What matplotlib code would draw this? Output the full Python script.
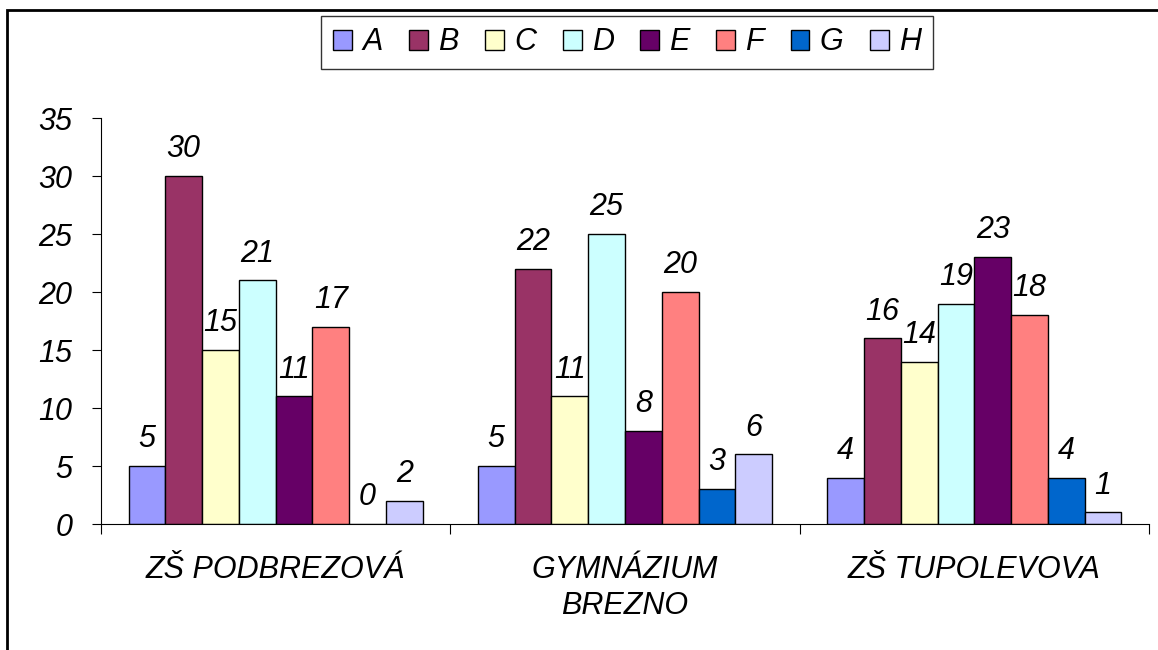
import numpy as np
import matplotlib
matplotlib.use('Agg')
from matplotlib import pyplot as plt
from matplotlib.patches import Rectangle

# data
schools = ['ZŠ PODBREZOVÁ', 'GYMNÁZIUM\nBREZNO', 'ZŠ TUPOLEVOVA']
series = ['A', 'B', 'C', 'D', 'E', 'F', 'G', 'H']
A = [5, 5, 4]
B = [30, 22, 16]
C = [15, 11, 14]
D = [21, 25, 19]
E = [11, 8, 23]
F = [17, 20, 18]
G = [0, 3, 4]
H = [2, 6, 1]
values = [A, B, C, D, E, F, G, H]
colors = ['#9999FF', '#993366', '#FFFFCC', '#CCFFFF', '#660066', '#FF8080', '#0066CC', '#CCCCFF']

plt.rcParams['font.family'] = ['Liberation Sans', 'DejaVu Sans']
plt.rcParams['font.style'] = 'italic'
FS = 22

fig = plt.figure(figsize=(11.58, 6.5), dpi=100)
ax = fig.add_axes([101 / 1158, 1 - 524 / 650, 1048 / 1158, 406 / 650])

# outer frame of the chart area (only left and top edges fall inside the image)
fig.patches.append(Rectangle((7 / 1158, -0.1), 1.2, 1 - 10 / 650 + 0.1,
                             transform=fig.transFigure, fill=False,
                             edgecolor='black', linewidth=2))

x = np.arange(len(schools))
w = 1 / 9.5
for i, (name, vals, col) in enumerate(zip(series, values, colors)):
    pos = x + (i - 3.5) * w
    ax.bar(pos, vals, width=w, color=col, edgecolor='black', linewidth=1, label=name)
    for p, v in zip(pos, vals):
        ax.annotate(str(v), (p, v), xytext=(0, 13.5), textcoords='offset points',
                    ha='center', va='baseline', fontsize=FS, style='italic')

ax.set_xlim(-0.5, 2.5)
ax.set_ylim(0, 35)
ax.set_yticks(np.arange(0, 36, 5))
ax.tick_params(axis='y', direction='out', length=6.5, width=0.8, labelsize=FS, pad=14)

# group boundary ticks + category labels
ax.set_xticks([-0.5, 0.5, 1.5, 2.5])
ax.set_xticklabels([])
ax.tick_params(axis='x', which='major', direction='out', length=7.5, width=0.8)
ax.set_xticks(x, minor=True)
ax.set_xticklabels(schools, minor=True, fontsize=FS, linespacing=1.28)
ax.tick_params(axis='x', which='minor', length=0, pad=22)

for s in ['top', 'right']:
    ax.spines[s].set_visible(False)
for s in ['left', 'bottom']:
    ax.spines[s].set_linewidth(0.8)

leg = fig.legend(loc='center', bbox_to_anchor=(627 / 1158, 1 - 42.5 / 650), ncol=8,
                 fontsize=FS, frameon=True, fancybox=False, edgecolor='black',
                 handlelength=0.62, handleheight=0.62, handletextpad=0.33,
                 columnspacing=0.87, borderpad=0.38, borderaxespad=0)
leg.get_frame().set_linewidth(1)

fig.savefig('out.png', dpi=100)
